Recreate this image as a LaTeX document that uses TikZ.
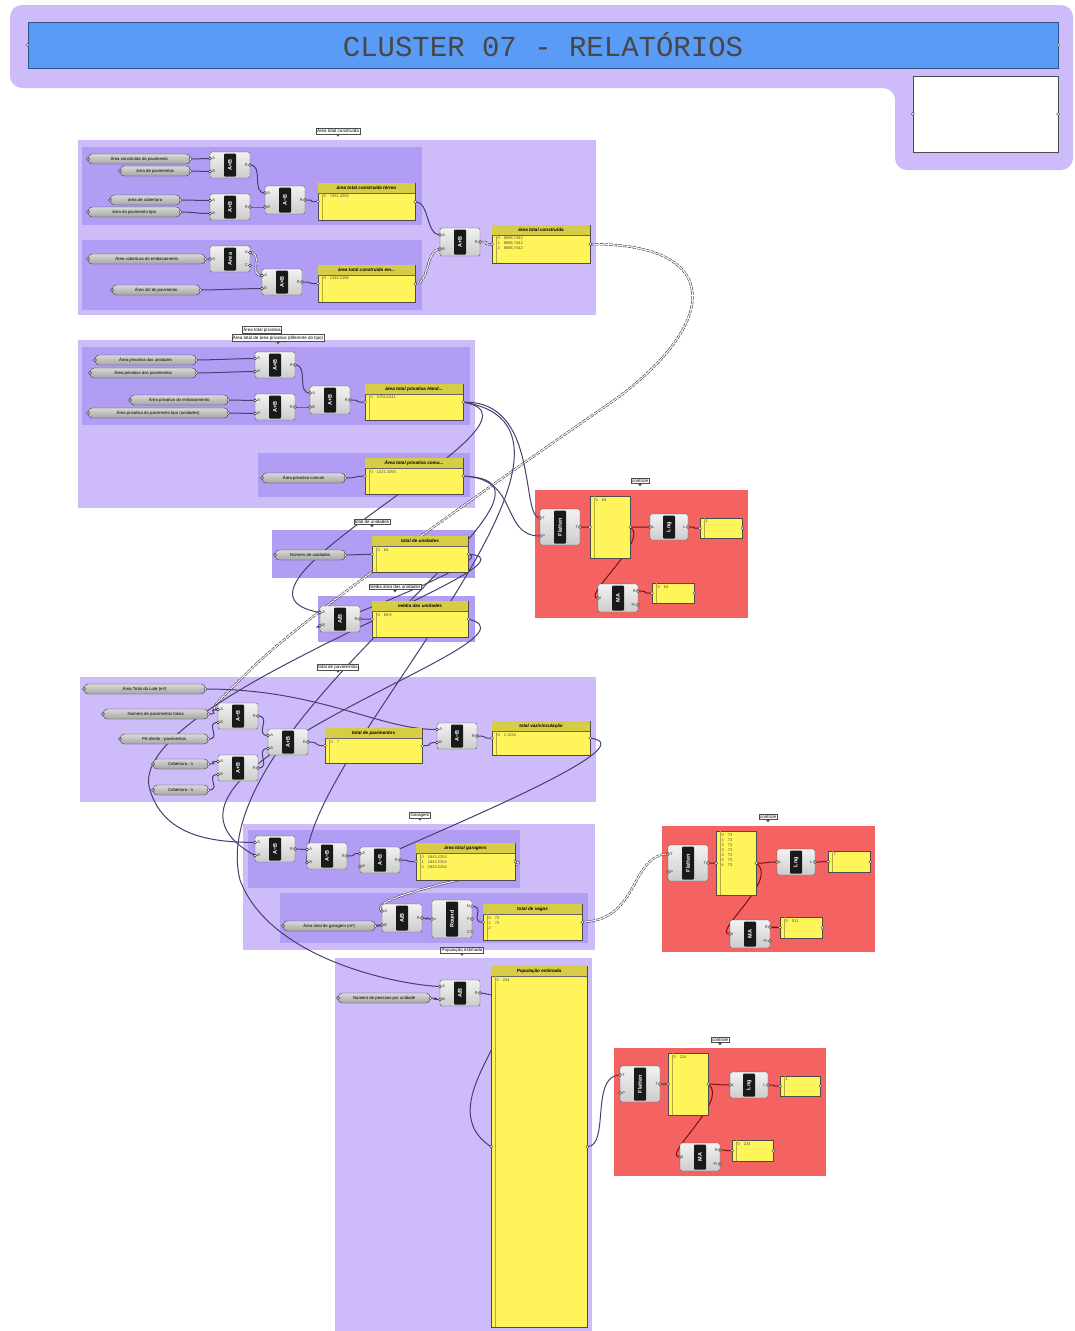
\documentclass[tikz,border=0pt]{standalone}
\usepackage{fontspec}
\setmainfont{Liberation Sans}
\newfontfamily\monof{Liberation Mono}
\usetikzlibrary{calc}
\pgfdeclarelayer{bg}
\pgfdeclarelayer{wires}
\pgfsetlayers{bg,wires,main}
\definecolor{lav}{HTML}{CDBBFA}
\definecolor{lavd}{HTML}{B29DF5}
\definecolor{blueb}{HTML}{5A9BF6}
\definecolor{redg}{HTML}{F46262}
\definecolor{pyel}{HTML}{FFF45A}
\definecolor{phdr}{HTML}{D6CC45}
\definecolor{wirec}{HTML}{4A3E6E}
\definecolor{wirered}{HTML}{7A1212}
\definecolor{compg}{HTML}{D4D4D4}
\tikzset{
  compbody/.style={draw=black!65, top color=gray!10, bottom color=gray!40, rounded corners=2pt, inner sep=0pt, line width=0.4pt},
  compstrip/.style={fill=black!90, text=white, inner sep=0pt, minimum width=12pt, rounded corners=1pt, font=\fontsize{5.5}{6}\selectfont\bfseries},
  portc/.style={draw=black!80, fill=white, line width=0.4pt},
  portl/.style={font=\fontsize{4}{4}\selectfont, inner sep=0.3pt, text=black!80},
  param/.style={draw=black!75, top color=gray!30, bottom color=gray!70, rounded corners=4pt, minimum height=10pt, inner sep=1pt, font=\fontsize{4.3}{5}\selectfont},
  panel/.style={fill=pyel, draw=black!70, line width=0.4pt, inner sep=0pt},
  ptitle/.style={font=\fontsize{4.6}{5}\selectfont\bfseries\itshape, inner sep=0pt},
  pcont/.style={font=\fontsize{4}{5}\selectfont, inner sep=0pt, align=left, text=black!70},
  ymarg/.style={draw=pyel!70!black, line width=0.3pt},
  wire/.style={draw=wirec, line width=1pt},
  redwire/.style={draw=wirered, line width=1pt},
  twire/.style={draw=black!75, line width=0.6pt, double=white, double distance=1.1pt, dash pattern=on 3.5pt off 1.2pt},
  lbl/.style={draw=black!70, fill=white, font=\fontsize{4.5}{5}\selectfont, inner sep=1pt}
}
\newcommand{\gcomp}[8]{%
  \node[compbody, minimum width=#4pt, minimum height=#5pt] (#1) at (#2,#3) {};%
  \node[compstrip, minimum height=#5pt-3pt] at (#2,#3) {\rotatebox{90}{#6}};%
  \foreach[count=\n] \lab in {#7}{\xdef\gnin{\n}}%
  \foreach[count=\n] \lab in {#8}{\xdef\gnout{\n}}%
  \foreach[count=\i] \lab in {#7}{%
    \pgfmathsetmacro\yy{#3-#5/2+#5*(\i-0.5)/\gnin}%
    \coordinate (#1-i\i) at (#2-#4/2,\yy);%
    \node[portl, anchor=west] at (#2-#4/2+1.8,\yy) {\lab};%
    \filldraw[portc] (#1-i\i) circle (1.5pt);}%
  \foreach[count=\i] \lab in {#8}{%
    \pgfmathsetmacro\yy{#3-#5/2+#5*(\i-0.5)/\gnout}%
    \coordinate (#1-o\i) at (#2+#4/2,\yy);%
    \node[portl, anchor=east] at (#2+#4/2-1.8,\yy) {\lab};%
    \filldraw[portc] (#1-o\i) circle (1.5pt);}%
}
\newcommand{\gparam}[5]{%
  \node[param, minimum width=#3pt-#2pt, anchor=west] (#1) at (#2,#4) {#5};%
  \filldraw[portc] (#1.west) circle (1.5pt);%
  \filldraw[portc] (#1.east) circle (1.5pt);}
\newcommand{\gpanel}[7]{%
  \node[panel, minimum width=#4pt-#2pt, minimum height=#5pt-#3pt, anchor=north west] (#1) at (#2,#3) {};%
  \def\ptxt{#6}%
  \ifx\ptxt\empty\def\hh{0}\else\def\hh{10}%
    \fill[phdr] (#2+0.3,#3+0.3) rectangle (#4-0.3,#3+10);%
    \draw[black!60, line width=0.3pt] (#2,#3+10) -- (#4,#3+10);%
    \node[ptitle] at ({(#2+#4)/2},#3+5.2) {#6};\fi
  \draw[ymarg] (#2+4,#3+\hh) -- (#2+4,#5);%
  \node[pcont, anchor=north west] at (#2+5.5,#3+\hh+2) {#7};%
  \coordinate (#1-in) at (#1.west);%
  \coordinate (#1-out) at (#1.east);%
  \filldraw[portc] (#1-in) circle (1.5pt);%
  \filldraw[portc] (#1-out) circle (1.5pt);}
\newcommand{\glabel}[4]{%
  \node[lbl] (#1) at (#2,#3) {#4};%
  \fill[black!70] ([xshift=-2pt]#1.south) -- ([xshift=2pt]#1.south) -- ([yshift=-2.5pt]#1.south) -- cycle;}
\newcommand{\wire}[3][wire]{\draw[#1] (#2) .. controls +(14,0) and +(-14,0) .. (#3);}
\begin{document}
\begin{tikzpicture}[x=1pt,y=-1pt]
\useasboundingbox (0,0) rectangle (1075,1331);
\begin{pgfonlayer}{bg}
\fill[white] (0,0) rectangle (1075,1331);
\fill[lav, rounded corners=12pt] (10,5) -- (1073,5) -- (1073,170) -- (895,170) -- (895,88) -- (10,88) -- cycle;
\fill[lav] (78,140) rectangle (596,315);
\fill[lavd] (82,147) rectangle (422,225);
\fill[lavd] (82,240) rectangle (422,310);
\fill[lav] (78,340) rectangle (475,508);
\fill[lavd] (82,347) rectangle (470,425);
\fill[lavd] (258,453) rectangle (470,497);
\fill[lavd] (272,530) rectangle (475,578);
\fill[lavd] (318,596) rectangle (475,642);
\fill[lav] (80,677) rectangle (596,802);
\fill[lav] (243,824) rectangle (595,950);
\fill[lavd] (248,830) rectangle (520,888);
\fill[lavd] (280,893) rectangle (588,943);
\fill[lav] (335,958) rectangle (592,1331);
\fill[redg] (535,490) rectangle (748,618);
\fill[redg] (662,826) rectangle (875,952);
\fill[redg] (614,1048) rectangle (826,1176);
\end{pgfonlayer}
% title
\node[fill=blueb, draw=blueb!55!black, line width=0.4pt, minimum width=1030pt, minimum height=46pt, inner sep=0pt, text=black!72, font=\monof\fontsize{29}{30}\selectfont] (title) at (543,45) {CLUSTER 07 - RELATÓRIOS};
\filldraw[portc] (title.west) circle (1.5pt);
\filldraw[portc] (title.east) circle (1.5pt);
\node[draw=black!70, fill=white, minimum width=145pt, minimum height=76pt, inner sep=0pt] (wbox) at (985.5,114) {};
\filldraw[portc] (wbox.west) circle (1.5pt);
\filldraw[portc] (wbox.east) circle (1.5pt);
% labels
\glabel{g1}{338}{131}{Área total construída}
\glabel{g2a}{262}{330}{Área total privativa}
\glabel{g2b}{278}{338}{Área total de área privativa (diferente do tipo)}
\glabel{g3}{372}{522}{total de unidades}
\glabel{g4}{395}{587}{média área das unidades}
\glabel{g5}{338}{667}{total de pavimentos}
\glabel{g6}{420}{815}{Garagem}
\glabel{g7}{462}{950}{População estimada}
\glabel{r1}{640}{481}{controle}
\glabel{r2}{768}{817}{controle}
\glabel{r3}{720}{1040}{controle}
% params
\gparam{p1}{88}{190}{159}{Área construída do pavimento}
\gparam{p2}{120}{190}{171}{área de pavimentos}
\gparam{p3}{110}{180}{200}{área de cobertura}
\gparam{p4}{88}{180}{212}{área do pavimento tipo}
\gparam{p5}{88}{205}{259}{Área cobertura do embasamento}
\gparam{p6}{112}{200}{290}{Área útil do pavimento}
\gparam{p7}{95}{196}{360}{Área privativa das unidades}
\gparam{p8}{90}{196}{373}{Área privativa dos pavimentos}
\gparam{p9}{130}{228}{400}{Área privativa do embasamento}
\gparam{p10}{88}{228}{413}{Área privativa do pavimento tipo (unidades)}
\gparam{p11}{262}{345}{478}{Área privativa comum}
\gparam{p12}{275}{345}{555}{Número de unidades}
\gparam{p13}{84}{205}{689}{Área Total do Lote (m²)}
\gparam{p14}{103}{208}{714}{Número de pavimentos totais}
\gparam{p15}{120}{208}{739}{Pé direito - pavimentos}
\gparam{p16}{153}{208}{764}{Cobertura - 1}
\gparam{p17}{153}{208}{790}{Cobertura - 1}
\gparam{p18}{283}{375}{926}{Área total de garagem (m²)}
\gparam{p19}{338}{430}{998}{Número de pessoas por unidade}
% components
\gcomp{c1}{230}{165}{40}{26}{A×B}{A,B}{R}
\gcomp{c2}{230}{207}{40}{26}{A+B}{A,B}{R}
\gcomp{c3}{285}{200}{40}{28}{A−B}{A,B}{R}
\gcomp{c4}{230}{259}{40}{26}{Area}{G}{A,C}
\gcomp{c5}{282}{282}{40}{26}{A×B}{A,B}{R}
\gcomp{c6}{460}{242}{40}{28}{A+B}{A,B}{R}
\gcomp{c7}{275}{365}{40}{26}{A×B}{A,B}{R}
\gcomp{c8}{275}{407}{40}{26}{A+B}{A,B}{R}
\gcomp{c9}{330}{400}{40}{28}{A+B}{A,B}{R}
\gcomp{c10}{340}{619}{40}{26}{A/B}{A,B}{R}
\gcomp{c11}{560}{527}{40}{36}{Flatten}{T,P}{T}
\gcomp{c12}{669}{527}{38}{26}{Lng}{L}{L}
\gcomp{c13}{618}{598}{40}{28}{MA}{I}{R,Pr}
\gcomp{c14}{238}{716}{40}{26}{A−B}{A,B}{R}
\gcomp{c15}{288}{742}{40}{26}{A+B}{A,B}{R}
\gcomp{c16}{238}{768}{40}{26}{A+B}{A,B}{R}
\gcomp{c17}{457}{736}{40}{26}{A−B}{A,B}{R}
\gcomp{c18}{275}{849}{40}{26}{A−B}{A,B}{R}
\gcomp{c19}{327}{856}{40}{26}{A−B}{A,B}{R}
\gcomp{c20}{380}{860}{40}{26}{A−B}{A,B}{R}
\gcomp{c21}{402}{918}{40}{28}{A/B}{A,B}{R}
\gcomp{c22}{452}{919}{40}{38}{Round}{x}{N,F,C}
\gcomp{c23}{688}{863}{40}{36}{Flatten}{T,P}{T}
\gcomp{c24}{796}{862}{38}{26}{Lng}{L}{L}
\gcomp{c25}{750}{934}{40}{28}{MA}{I}{R,Pr}
\gcomp{c26}{460}{993}{40}{26}{A/B}{A,B}{R}
\gcomp{c27}{640}{1084}{40}{36}{Flatten}{T,P}{T}
\gcomp{c28}{749}{1085}{38}{26}{Lng}{L}{L}
\gcomp{c29}{700}{1157}{40}{28}{MA}{I}{R,Pr}
% panels
\gpanel{P1}{318}{183}{415}{220}{área total construída térreo}{0\quad 7451.4255}
\gpanel{P2}{318}{265}{415}{302}{área total construída em...}{0\quad 1445.3186}
\gpanel{P3}{492}{225}{590}{263}{área total construída}{0\quad 8896.7442\\1\quad 8896.7442\\2\quad 8896.7442}
\gpanel{P4}{365}{384}{463}{420}{área total privativa Hand...}{0\quad 5754.1241}
\gpanel{P5}{365}{458}{463}{494}{Área total privativa comu...}{0\quad 1421.3355}
\gpanel{P6}{372}{536}{468}{572}{total de unidades}{0\quad 64}
\gpanel{P7}{372}{601}{468}{637}{média das unidades}{0\quad 89.9}
\gpanel{P8}{590}{496}{630}{558}{}{0\quad 64}
\gpanel{P9}{700}{518}{742}{538}{}{1}
\gpanel{P10}{652}{583}{694}{603}{}{0\quad 64}
\gpanel{P11}{325}{728}{422}{763}{total de pavimentos}{0\quad 7}
\gpanel{P12}{492}{721}{590}{755}{total vaz/vinculação}{0\quad 2.1254}
\gpanel{P13}{416}{843}{515}{880}{área total garagens}{0\quad 1843.2254\\1\quad 1843.2254\\2\quad 1843.2254}
\gpanel{P14}{483}{904}{582}{940}{total de vagas}{0\quad 73\\1\quad 73\\2}
\gpanel{P15}{716}{831}{756}{895}{}{0\quad 73\\1\quad 73\\2\quad 73\\3\quad 73\\4\quad 73\\5\quad 73\\6\quad 73}
\gpanel{P16}{828}{851}{870}{872}{}{7}
\gpanel{P17}{780}{917}{822}{938}{}{0\quad 511}
\gpanel{P18}{491}{966}{587}{1327}{População estimada}{0\quad 224}
\gpanel{P19}{668}{1053}{708}{1115}{}{0\quad 224}
\gpanel{P20}{780}{1076}{820}{1096}{}{1}
\gpanel{P21}{732}{1140}{773}{1161}{}{0\quad 224}
% wires
\begin{pgfonlayer}{wires}
\wire{p1.east}{c1-i1}
\wire{p2.east}{c1-i2}
\wire{p3.east}{c2-i1}
\wire{p4.east}{c2-i2}
\wire{c1-o1}{c3-i1}
\wire{c2-o1}{c3-i2}
\wire{c3-o1}{P1-in}
\wire{P1-out}{c6-i1}
\wire{p5.east}{c4-i1}
\wire[twire]{c4-o1}{c5-i1}
\wire{p6.east}{c5-i2}
\wire{c5-o1}{P2-in}
\wire[twire]{P2-out}{c6-i2}
\wire[twire]{c6-o1}{P3-in}
\draw[twire] (P3-out) .. controls (730,243) and (720,330) .. (600,410) .. controls (470,500) and (300,620) .. (250,670) .. controls (225,695) and (205,712) .. (c14-i1);
\wire{p7.east}{c7-i1}
\wire{p8.east}{c7-i2}
\wire{p9.east}{c8-i1}
\wire{p10.east}{c8-i2}
\wire{c7-o1}{c9-i1}
\wire{c8-o1}{c9-i2}
\wire{c9-o1}{P4-in}
\wire{p11.east}{P5-in}
\wire{p12.east}{P6-in}
\wire{c10-o1}{P7-in}
\draw[wire] (P4-out) .. controls (540,400) and (520,518) .. (c11-i1);
\draw[wire] (P5-out) .. controls (520,478) and (500,536) .. (c11-i2);
\draw[wire] (P4-out) .. controls (570,420) and (190,590) .. (c10-i1);
\draw[wire] (P6-out) .. controls (500,560) and (290,640) .. (c10-i2);
\draw[wire] (P4-out) .. controls (640,430) and (300,760) .. (c19-i2);
\draw[wire] (P5-out) .. controls (610,480) and (200,720) .. (240,880) .. controls (270,960) and (400,985) .. (c26-i1);
\draw[wire] (P6-out) .. controls (560,560) and (120,700) .. (150,790) .. controls (165,840) and (220,842) .. (c18-i1);
\draw[wire] (P7-out) .. controls (560,640) and (100,770) .. (c18-i2);
\draw[wire] (p13.east) .. controls (320,689) and (380,730) .. (c17-i1);
\wire{p14.east}{c14-i1}
\wire{p15.east}{c14-i2}
\wire{p16.east}{c16-i1}
\wire{p17.east}{c16-i2}
\wire{c14-o1}{c15-i1}
\wire{c16-o1}{c15-i2}
\wire{c15-o1}{P11-in}
\wire{P11-out}{c17-i2}
\wire{c17-o1}{P12-in}
\draw[wire] (P12-out) .. controls (650,745) and (440,830) .. (c20-i2);
\wire{c18-o1}{c19-i1}
\wire{c19-o1}{c20-i1}
\wire{c20-o1}{P13-in}
\draw[twire] (P13-out) .. controls (545,865) and (360,895) .. (c21-i1);
\wire{p18.east}{c21-i2}
\wire{c21-o1}{c22-i1}
\wire{c22-o1}{P14-in}
\draw[twire] (P14-out) .. controls (640,920) and (630,855) .. (c23-i1);
\wire{p19.east}{c26-i2}
\draw[wire] (c26-o1) .. controls (560,1000) and (420,1100) .. (P18-in);
\draw[wire] (P18-out) .. controls (610,1146) and (590,1075) .. (c27-i1);
% red groups
\wire[redwire]{c11-o1}{P8-in}
\wire[redwire]{P8-out}{c12-i1}
\draw[redwire] (P8-out) .. controls (650,540) and (580,598) .. (c13-i1);
\wire[redwire]{c12-o1}{P9-in}
\wire[redwire]{c13-o1}{P10-in}
\wire[redwire]{c23-o1}{P15-in}
\wire[redwire]{P15-out}{c24-i1}
\draw[redwire] (P15-out) .. controls (780,880) and (710,934) .. (c25-i1);
\wire[redwire]{c24-o1}{P16-in}
\wire[redwire]{c25-o1}{P17-in}
\wire[redwire]{c27-o1}{P19-in}
\wire[redwire]{P19-out}{c28-i1}
\draw[redwire] (P19-out) .. controls (730,1100) and (660,1157) .. (c29-i1);
\wire[redwire]{c28-o1}{P20-in}
\wire[redwire]{c29-o1}{P21-in}
\end{pgfonlayer}
\end{tikzpicture}
\end{document}
